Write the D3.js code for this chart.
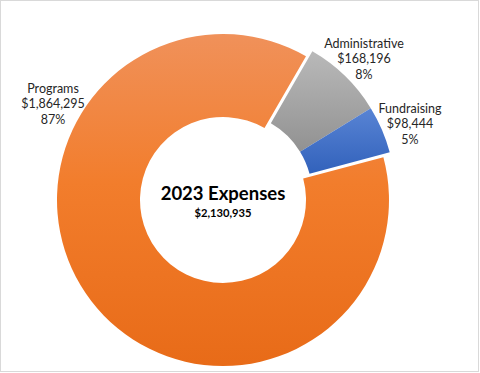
<!DOCTYPE html>
<html><head><meta charset="utf-8">
<script src="https://cdn.jsdelivr.net/npm/d3@7"></script>
<style>body{margin:0;background:#fff}svg{display:block}</style>
</head><body>
<script>
const categories = ["Administrative", "Fundraising", "Programs"];
const values = [168196, 98444, 1864295];
const exploded = [true, true, false];
const title = "2023 Expenses";

const W = 480, H = 373, cx = 223, cy = 200, rOuter = 166, rInner = 83;
const startAngle = 30 * Math.PI / 180;
const colors = {
  Administrative: ["#C2C2C2", "#8A8A8A"],
  Fundraising: ["#5B86D6", "#2A5BB6"],
  Programs: ["#F0915A", "#E86B18"]
};

const svg = d3.select("body").append("svg").attr("width", W).attr("height", H);
svg.append("rect").attr("x", 0.5).attr("y", 0.5).attr("width", W - 2).attr("height", H - 2)
  .attr("fill", "#fff").attr("stroke", "#d9d9d9");

const defs = svg.append("defs");
categories.forEach((c, i) => {
  const g = defs.append("linearGradient").attr("id", "g" + i)
    .attr("gradientUnits", "userSpaceOnUse")
    .attr("x1", 0).attr("x2", 0);
  if (c === "Programs") g.attr("y1", -rOuter).attr("y2", rOuter);
  else if (c === "Administrative") g.attr("y1", -rOuter).attr("y2", -rInner * 0.3);
  else g.attr("y1", -rOuter * 0.55).attr("y2", -rInner * 0.1);
  g.append("stop").attr("offset", "0%").attr("stop-color", colors[c][0]);
  if (c === "Programs") g.append("stop").attr("offset", "45%").attr("stop-color", "#F27D2C");
  g.append("stop").attr("offset", "100%").attr("stop-color", colors[c][1]);
});

const total = d3.sum(values);
const pie = d3.pie().sort(null).startAngle(startAngle).endAngle(startAngle + 2 * Math.PI);
const arcs = pie(values);
const arc = d3.arc().innerRadius(rInner).outerRadius(rOuter);

const expArcs = arcs.filter((d, i) => exploded[i]);
const midA = (expArcs[0].startAngle + expArcs[expArcs.length - 1].endAngle) / 2;
const off = 8;
const ox = off * Math.sin(midA), oy = -off * Math.cos(midA);

const g = svg.append("g").attr("transform", `translate(${cx},${cy})`);
g.selectAll("path").data(arcs).join("path")
  .attr("d", arc)
  .attr("transform", (d, i) => exploded[i] ? `translate(${ox},${oy})` : null)
  .attr("fill", (d, i) => `url(#g${i})`);

const labelPos = {
  Administrative: [364, 48],
  Fundraising: [410, 113],
  Programs: [53, 93]
};
const fmt = d3.format("$,");
const font = "Lato, 'Open Sans', sans-serif";
categories.forEach((c, i) => {
  const [x, y] = labelPos[c];
  const lines = [c, fmt(values[i]), Math.round(values[i] / total * 100) + "%"];
  const t = svg.append("text").attr("x", x).attr("y", y)
    .attr("text-anchor", "middle").attr("font-family", font)
    .attr("font-size", 12.5).attr("fill", "#262626");
  lines.forEach((l, k) => t.append("tspan").attr("x", x).attr("dy", k ? 15.3 : 0).text(l));
});

svg.append("text").attr("x", cx).attr("y", 200).attr("text-anchor", "middle")
  .attr("font-family", font).attr("font-weight", "bold").attr("font-size", 18.5)
  .attr("fill", "#000").text(title);
svg.append("text").attr("x", cx).attr("y", 216.5).attr("text-anchor", "middle")
  .attr("font-family", font).attr("font-weight", "bold").attr("font-size", 11.2)
  .attr("fill", "#000").text(fmt(total));
</script>
</body></html>
